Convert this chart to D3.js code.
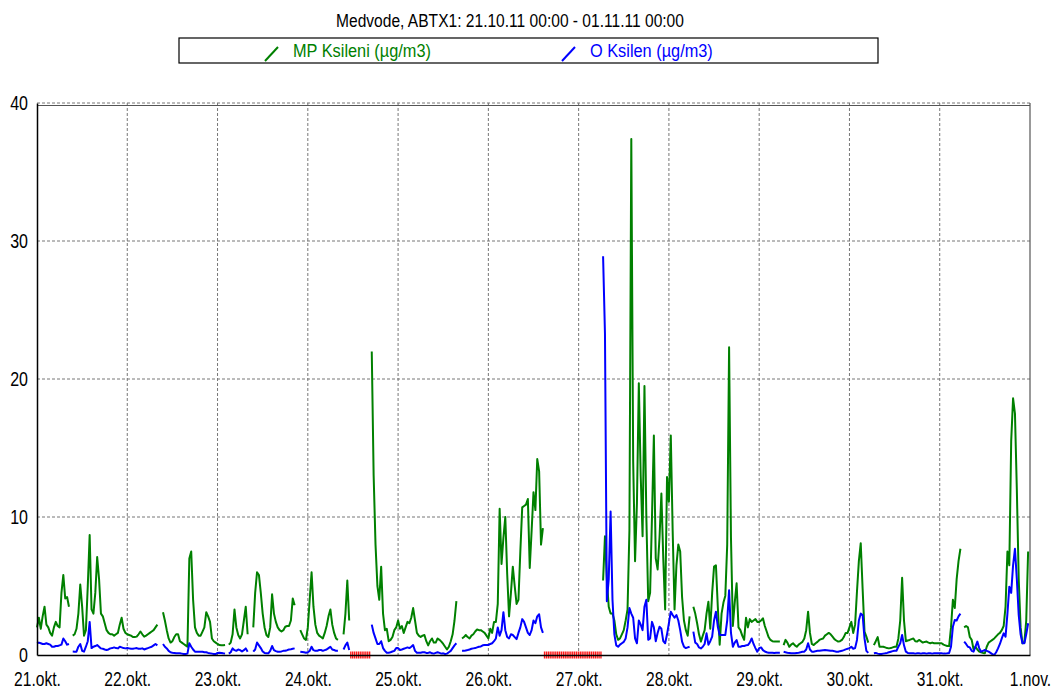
<!DOCTYPE html>
<html>
<head>
<meta charset="utf-8">
<script src="https://cdn.jsdelivr.net/npm/d3@7"></script>
<style>
  body { margin: 0; background: #fff; }
  svg text { font-family: "Liberation Sans", Arial, sans-serif; }
</style>
</head>
<body>
<div id="chart"></div>
<script>
const chartTitle = "Medvode, ABTX1: 21.10.11 00:00 - 01.11.11 00:00";
const seriesNames = ["MP Ksileni (µg/m3)", "O Ksilen (µg/m3)"];
const dayLabels = ["21.okt.", "22.okt.", "23.okt.", "24.okt.", "25.okt.", "26.okt.",
                   "27.okt.", "28.okt.", "29.okt.", "30.okt.", "31.okt.", "1.nov."];
const yTicks = [0, 10, 20, 30, 40];
const startTime = Date.UTC(2011, 9, 21);
const stepMs = 30 * 60 * 1000;   // half-hour values

// MP Ksileni, one row per day (48 half-hour values)
const mpKsileni = [
  2.0,2.7,1.9,2.8,3.5,2.2,2.0,1.6,1.4,2.0,2.4,2.1,2.0,4.5,5.8,4.1,4.2,3.5,null,1.4,1.5,1.9,3.0,5.1,3.5,1.4,1.8,5.0,8.7,3.3,3.0,4.5,7.1,5.5,3.0,2.8,2.3,1.8,1.6,1.5,1.5,1.4,1.5,1.6,2.2,2.7,1.9,1.6,
  1.5,1.45,1.4,1.3,1.3,1.33,1.5,1.7,1.5,1.33,1.4,1.5,1.6,1.7,1.8,2.0,2.2,null,null,3.1,2.5,1.8,1.2,0.9,1.0,1.3,1.5,1.5,1.0,0.9,0.8,0.7,0.6,7.0,7.5,4.0,2.0,1.6,1.4,1.4,1.7,2.0,3.1,2.8,2.4,1.2,1.0,0.9,
  0.8,0.72,0.7,0.7,0.72,null,0.75,0.9,1.5,3.3,2.0,1.45,1.2,1.5,2.5,3.5,1.5,null,null,2.0,4.5,6.0,5.8,4.5,3.0,2.0,1.45,1.3,2.0,4.4,3.0,2.4,2.0,1.8,1.7,1.8,2.05,2.1,2.1,2.5,4.1,3.6,null,null,1.8,1.5,1.2,1.1,
  2.0,4.0,6.0,3.5,2.2,1.6,1.4,1.3,1.2,1.6,2.1,2.8,3.3,2.2,1.6,1.2,1.1,null,null,1.5,3.0,5.4,2.5,null,null,null,null,null,null,null,null,null,null,null,22.0,13.0,8.0,5.0,4.0,6.4,3.0,1.8,1.9,1.0,1.1,1.3,1.8,2.0,
  2.5,1.9,2.1,1.6,2.0,2.4,2.3,2.7,3.4,2.5,1.6,1.4,1.3,1.4,1.45,1.0,0.7,1.0,1.2,0.9,0.9,1.2,1.1,0.97,0.8,0.6,0.4,0.6,1.0,1.5,2.5,3.9,null,null,1.2,1.3,1.45,1.3,1.2,1.4,1.5,1.7,1.85,1.8,1.8,1.7,1.6,1.4,
  1.2,1.9,1.6,2.4,2.4,3.7,10.6,6.6,8.5,10.0,5.9,2.8,4.5,6.4,5.0,3.7,4.0,7.5,10.7,10.8,10.9,11.3,6.3,9.0,11.8,10.5,14.2,13.3,8.0,9.2,null,null,null,null,null,null,null,null,null,null,null,null,null,null,null,null,null,null,
  null,null,null,null,null,null,null,null,null,null,null,null,null,5.4,8.6,5.5,3.5,3.0,3.0,2.5,1.5,1.1,1.2,1.5,1.8,2.5,3.3,9.0,37.4,14.0,6.8,11.0,19.7,13.0,8.6,19.5,10.0,3.9,4.5,10.0,15.9,7.0,6.2,8.5,11.7,7.0,3.3,12.9,
  11.1,15.9,9.0,3.3,6.5,8.0,7.5,4.2,2.5,1.8,1.4,2.8,null,3.5,3.0,2.3,1.5,0.97,1.4,1.8,3.0,3.86,1.9,4.5,6.4,6.5,3.5,0.75,3.0,3.8,4.3,8.0,22.3,8.5,2.1,3.8,5.2,2.0,1.8,1.4,1.1,2.7,2.0,2.6,2.4,2.5,2.6,2.4,
  2.4,2.5,2.66,2.1,1.7,1.3,1.09,1.0,0.97,0.97,0.97,0.97,null,0.72,1.1,0.9,0.6,0.75,0.85,0.7,0.6,0.75,0.85,0.95,1.2,1.8,3.14,1.6,0.8,0.72,0.85,0.95,1.09,1.15,1.2,1.4,1.5,1.6,1.5,1.33,1.15,1.05,0.97,1.0,1.09,1.3,1.6,1.6,
  2.0,2.4,1.6,2.2,4.6,6.8,8.1,4.8,1.7,1.33,0.9,null,null,0.72,1.0,1.3,0.6,0.6,0.6,0.55,0.5,0.48,0.5,0.55,0.6,0.6,1.2,2.5,5.6,2.5,1.0,1.05,1.09,1.15,1.2,1.0,0.97,1.09,1.0,0.9,0.95,0.97,0.9,0.85,0.9,0.85,0.85,0.85,
  0.85,0.85,0.75,0.7,0.65,0.65,2.0,4.0,3.4,5.5,6.8,7.7,null,2.0,2.1,2.0,1.3,1.1,0.4,0.6,0.4,0.25,0.2,0.15,0.12,0.6,0.9,1.0,1.1,1.2,1.35,1.5,1.6,1.8,2.1,3.5,7.5,6.5,15.5,18.6,17.5,12.0,5.5,2.0,0.85,0.9,2.5,7.5
];

// O Ksilen, one row per day (48 half-hour values)
const oKsilen = [
  0.85,0.9,0.85,0.8,0.8,0.85,0.8,0.75,0.6,0.6,0.65,0.65,0.7,0.75,1.2,1.0,0.75,0.8,null,0.25,0.24,0.24,0.6,0.8,0.3,0.24,0.6,1.0,2.4,0.5,0.6,0.65,0.72,0.6,0.48,0.45,0.4,0.36,0.4,0.48,0.5,0.55,0.5,0.48,0.6,0.55,0.5,0.48,
  0.5,0.48,0.45,0.45,0.48,0.5,0.45,0.45,0.48,0.4,0.45,0.5,0.55,0.6,0.7,0.8,0.7,null,null,0.8,0.6,0.48,0.3,0.2,0.17,0.15,0.12,0.12,0.12,0.1,0.08,0.07,0.1,0.85,0.6,0.4,0.24,0.24,0.24,0.24,0.24,0.2,0.2,0.15,0.12,0.1,0.08,0.07,
  0.15,0.17,0.15,0.12,0.1,null,0.1,0.2,0.48,0.35,0.3,0.4,0.35,0.25,0.35,0.48,0.24,null,null,0.24,0.4,0.9,0.7,0.5,0.25,0.15,0.12,0.12,0.3,0.65,0.35,0.28,0.24,0.24,0.26,0.3,0.31,0.35,0.4,0.42,0.45,0.48,null,null,0.24,0.22,0.2,0.17,
  0.2,0.3,0.6,0.35,0.3,0.3,0.36,0.36,0.3,0.35,0.4,0.5,0.6,0.4,0.36,0.3,0.31,null,null,0.4,0.7,0.9,0.36,null,null,null,null,null,null,null,null,null,null,null,2.2,1.6,1.2,0.8,0.8,1.0,0.5,0.3,0.17,0.17,0.2,0.25,0.3,0.5,
  0.5,0.36,0.4,0.45,0.5,0.55,0.5,0.6,0.72,0.3,0.17,0.17,0.17,0.2,0.2,0.15,0.15,0.2,0.12,0.1,0.15,0.2,0.15,0.1,0.12,0.07,0.1,0.2,0.3,0.5,0.7,0.85,null,null,0.31,0.3,0.33,0.36,0.4,0.45,0.48,0.5,0.55,0.6,0.62,0.7,0.72,0.72,
  0.72,0.8,0.85,1.0,1.2,2.0,1.4,1.8,3.1,1.8,1.3,1.2,1.5,1.45,1.3,1.15,1.6,2.0,2.6,2.4,2.0,1.6,1.45,1.8,2.5,2.3,2.8,2.95,2.0,1.6,null,null,null,null,null,null,null,null,null,null,null,null,null,null,null,null,null,null,
  null,null,null,null,null,null,null,null,null,null,null,null,null,28.9,23.3,3.9,5.5,10.4,4.0,1.5,0.7,0.6,0.75,0.85,0.95,1.2,2.0,3.4,3.0,2.7,1.2,0.85,2.5,2.2,1.8,3.5,4.0,1.1,1.2,2.4,2.0,1.0,1.6,2.05,1.9,1.0,0.85,1.5,
  2.3,3.14,2.9,2.7,2.9,2.5,1.8,0.97,0.6,0.5,0.55,0.6,null,1.69,0.9,0.8,0.55,0.48,0.6,0.8,1.57,0.75,1.0,1.33,2.5,3.14,2.05,1.45,1.45,1.45,1.45,2.5,4.7,1.6,0.6,0.9,1.09,0.6,0.6,0.65,0.65,0.7,0.72,0.9,1.2,0.8,0.5,0.24,
  0.5,0.55,0.35,0.25,0.2,0.17,0.17,0.17,0.15,0.17,0.17,0.17,null,0.24,0.2,0.17,0.15,0.12,0.12,0.12,0.15,0.17,0.2,0.24,0.24,0.4,0.85,0.4,0.24,0.24,0.28,0.3,0.31,0.33,0.35,0.36,0.35,0.33,0.31,0.3,0.28,0.24,0.24,0.28,0.3,0.35,0.41,0.45,
  0.5,0.6,0.45,0.5,1.09,2.5,3.0,2.9,1.2,0.3,0.15,null,null,0.12,0.15,0.1,0.07,0.07,0.1,0.12,0.15,0.2,0.24,0.28,0.31,0.31,0.6,0.85,1.45,0.7,0.24,0.15,0.12,0.12,0.12,0.1,0.12,0.12,0.1,0.12,0.12,0.1,0.12,0.12,0.1,0.12,0.12,0.12,
  0.12,0.12,0.1,0.1,0.12,0.15,0.6,2.05,2.54,2.5,2.8,3.0,null,0.97,0.8,0.6,0.55,0.3,0.24,0.6,0.97,0.5,0.24,0.3,0.36,0.3,0.24,0.15,0.05,0.0,0.2,0.48,0.8,1.2,1.57,1.33,3.0,4.95,4.5,6.5,7.7,5.5,2.9,1.5,0.85,0.85,1.5,2.3
];

const svgWidth = 1053;
const svgHeight = 695;
const margin = { top: 103, right: 23, bottom: 40, left: 37 };
const width = svgWidth - margin.left - margin.right;
const height = svgHeight - margin.top - margin.bottom;

const svg = d3.select("#chart").append("svg")
    .attr("width", svgWidth)
    .attr("height", svgHeight);

// squeeze text horizontally around its anchor (the original font is a narrow one)
function squeeze(sel, k) {
    sel.attr("transform", function() {
        const x = +this.getAttribute("x") || 0;
        return `translate(${x},0) scale(${k},1) translate(${-x},0)`;
    });
}

const days = dayLabels.map((d, i) => new Date(startTime + i * 86400000));
const x = d3.scaleUtc().domain([days[0], days[days.length - 1]]).range([0, width]);
const y = d3.scaleLinear().domain([0, 40]).range([height, 0]);

const toPoints = arr => arr.map((v, i) => ({ t: new Date(startTime + i * stepMs), v: v }));
const series = [
    { name: seriesNames[0], color: "#008000", points: toPoints(mpKsileni) },
    { name: seriesNames[1], color: "#0000ff", points: toPoints(oKsilen) }
];

// title
svg.append("text")
    .attr("x", 510).attr("y", 27)
    .attr("text-anchor", "middle")
    .style("font-size", "19px")
    .text(chartTitle)
    .call(squeeze, 0.82);

// legend
const legend = svg.append("g");
legend.append("rect")
    .attr("x", 179).attr("y", 38).attr("width", 699).attr("height", 25)
    .attr("fill", "#fff").attr("stroke", "#000").attr("stroke-width", 1.2);
const legendX = [265, 562];
series.forEach((s, i) => {
    legend.append("line")
        .attr("x1", legendX[i]).attr("y1", 61)
        .attr("x2", legendX[i] + 13).attr("y2", 47)
        .attr("stroke", s.color).attr("stroke-width", 2);
    legend.append("text")
        .attr("x", legendX[i] + 28).attr("y", 57)
        .style("font-size", "19px")
        .attr("fill", s.color)
        .text(s.name)
        .call(squeeze, 0.86);
});

const chartGroup = svg.append("g")
    .attr("transform", `translate(${margin.left}, ${margin.top})`);

// grid
chartGroup.append("g")
    .selectAll("line")
    .data(yTicks.filter(d => d > 0))
    .enter().append("line")
    .attr("x1", 0).attr("x2", width)
    .attr("y1", d => y(d)).attr("y2", d => y(d))
    .attr("stroke", "#777").attr("stroke-dasharray", "3,2");

chartGroup.append("g")
    .selectAll("line")
    .data(days.slice(1, -1))
    .enter().append("line")
    .attr("x1", d => x(d)).attr("x2", d => x(d))
    .attr("y1", 0).attr("y2", height)
    .attr("stroke", "#777").attr("stroke-dasharray", "3,2");

// frame
chartGroup.append("line")
    .attr("x1", 0).attr("x2", width).attr("y1", 2.5).attr("y2", 2.5)
    .attr("stroke", "#555").attr("stroke-width", 1);
chartGroup.append("line")
    .attr("x1", width).attr("x2", width).attr("y1", 0).attr("y2", height)
    .attr("stroke", "#555").attr("stroke-width", 1.2);

// missing-data marks on the time axis (long runs with no values)
const missing = [];
let run = [];
mpKsileni.forEach((v, i) => {
    if (v === null && oKsilen[i] === null) { run.push(i); }
    else { if (run.length >= 5) missing.push(...run); run = []; }
});
if (run.length >= 5) missing.push(...run);
const slotW = x(new Date(startTime + stepMs)) - x(new Date(startTime));
chartGroup.append("g")
    .selectAll("rect")
    .data(missing)
    .enter().append("rect")
    .attr("x", i => x(new Date(startTime + i * stepMs)) - slotW / 2)
    .attr("y", height - 3.5)
    .attr("width", slotW - 0.5)
    .attr("height", 7)
    .attr("fill", "#ff1a1a");

// lines
const line = d3.line()
    .defined(d => d.v !== null)
    .x(d => x(d.t))
    .y(d => y(d.v));

chartGroup.selectAll(".series")
    .data(series)
    .enter().append("path")
    .attr("class", "series")
    .attr("fill", "none")
    .attr("stroke", d => d.color)
    .attr("stroke-width", 2)
    .attr("stroke-linejoin", "round")
    .attr("d", d => line(d.points));

// axes
const xAxis = d3.axisBottom(x)
    .tickValues(days)
    .tickFormat((d, i) => dayLabels[i])
    .tickSize(0)
    .tickPadding(17);

const xAxisG = chartGroup.append("g")
    .attr("transform", `translate(0, ${height})`)
    .call(xAxis);
xAxisG.select(".domain").attr("stroke", "#000").attr("stroke-width", 1.5);
xAxisG.selectAll("text")
    .style("font-size", "20px")
    .attr("fill", "#000")
    .call(squeeze, 0.78);

const yAxis = d3.axisLeft(y)
    .tickValues(yTicks)
    .tickSize(0)
    .tickPadding(9);

const yAxisG = chartGroup.append("g").call(yAxis);
yAxisG.select(".domain").attr("stroke", "#000").attr("stroke-width", 1.5);
yAxisG.selectAll("text")
    .style("font-size", "20px")
    .attr("fill", "#000")
    .call(squeeze, 0.8);
</script>
</body>
</html>
